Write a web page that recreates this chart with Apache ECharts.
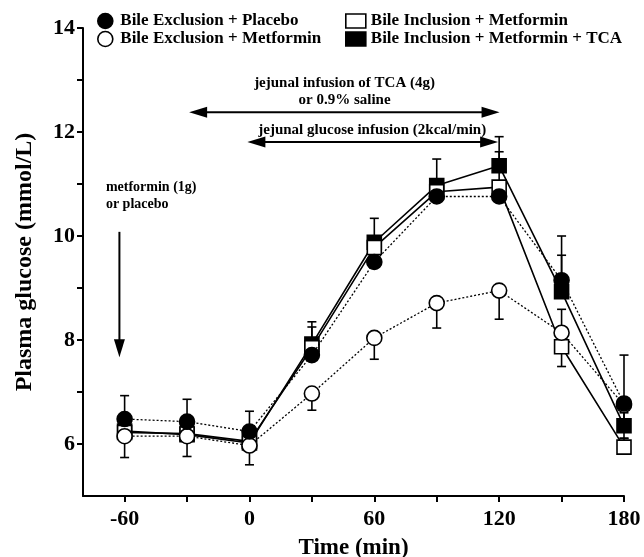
<!DOCTYPE html>
<html><head><meta charset="utf-8">
<script src="https://cdn.jsdelivr.net/npm/echarts@6/dist/echarts.min.js"></script>
<style>html,body{margin:0;padding:0;background:#fff}#c{width:644px;height:557px}</style>
</head><body><div id="c"></div>
<script>
// ---- data ----
const times = [-60, -30, 0, 30, 60, 90, 120, 150, 180];
const seriesNames = ['Bile Exclusion + Placebo', 'Bile Exclusion + Metformin', 'Bile Inclusion + Metformin', 'Bile Inclusion + Metformin + TCA'];
const exclPlacebo   = [6.48, 6.43, 6.24, 7.71, 9.50, 10.76, 10.76, 9.15, 6.78];
const exclPlaceboUp = [0.45, 0.43, 0.39, 0.30, 0.25, 0.30, 0.30, 0.85, 0.93];
const exclPlaceboDn = [0, 0, 0, 0, 0, 0, 0, 0, 0];
const exclMetformin   = [6.15, 6.15, 5.97, 6.97, 8.04, 8.71, 8.95, 8.14, 6.75];
const exclMetforminUp = [0, 0, 0, 0, 0, 0, 0, 0.45, 0];
const exclMetforminDn = [0.41, 0.39, 0.37, 0.32, 0.41, 0.48, 0.55, 0.30, 0.30];
const inclMetformin   = [6.22, 6.20, 6.05, 7.85, 9.78, 10.85, 10.94, 7.87, 5.94];
const inclMetforminUp = [0, 0, 0, 0.40, 0, 0, 0.68, 0, 0.17];
const inclMetforminDn = [0, 0, 0, 0, 0, 0, 0, 0.38, 0];
const inclTCA   = [6.25, 6.18, 6.02, 7.92, 9.88, 10.97, 11.35, 8.93, 6.35];
const inclTCAUp = [0, 0, 0, 0.43, 0.46, 0.51, 0.56, 0.70, 0.25];
const inclTCADn = [0, 0, 0, 0, 0, 0, 0, 0, 0.24];
const xTickValues = [-60, -30, 0, 30, 60, 90, 120, 150, 180];
const xLabelValues = [-60, 0, 60, 120, 180];
const yTickValues = [6, 7, 8, 9, 10, 11, 12, 13, 14];
const yLabelValues = [6, 8, 10, 12, 14];
const annoTCA = ['jejunal infusion of TCA (4g)', 'or 0.9% saline'];
const annoGlucose = 'jejunal glucose infusion (2kcal/min)';
const annoMetformin = ['metformin (1g)', 'or placebo'];

const FONT = 'Liberation Serif';
const chart = echarts.init(document.getElementById('c'), null, {renderer: 'canvas'});

function pts(vals) { return times.map((t, i) => [t, vals[i]]); }
function errData(vals, up, dn) { return times.map((t, i) => [t, vals[i], up[i], dn[i]]); }

function errSeries(vals, up, dn) {
  return {
    type: 'custom', z: 1, silent: true, animation: false,
    data: errData(vals, up, dn),
    renderItem: function (params, api) {
      const x = api.value(0), y = api.value(1), u = api.value(2), d = api.value(3);
      const children = [];
      const c = api.coord([x, y]);
      const cap = 4.5;
      const st = {stroke: '#000', lineWidth: 1.6};
      if (u > 0) {
        const p = api.coord([x, y + u]);
        children.push({type: 'line', shape: {x1: c[0], y1: c[1], x2: p[0], y2: p[1]}, style: st});
        children.push({type: 'line', shape: {x1: p[0] - cap, y1: p[1], x2: p[0] + cap, y2: p[1]}, style: st});
      }
      if (d > 0) {
        const p = api.coord([x, y - d]);
        children.push({type: 'line', shape: {x1: c[0], y1: c[1], x2: p[0], y2: p[1]}, style: st});
        children.push({type: 'line', shape: {x1: p[0] - cap, y1: p[1], x2: p[0] + cap, y2: p[1]}, style: st});
      }
      return {type: 'group', children: children};
    }
  };
}

function lineSeries(name, vals, symbol, size, fill, dotted, z) {
  return {
    name: name, type: 'line', z: z, animation: false, silent: true,
    data: pts(vals), symbol: symbol, symbolSize: size, showSymbol: true,
    lineStyle: {color: '#000', width: dotted ? 1.3 : 1.6, type: dotted ? [2, 2] : 'solid'},
    itemStyle: {color: fill, borderColor: '#000', borderWidth: 1.6},
    emphasis: {disabled: true}
  };
}

const labelStyle = {fontFamily: FONT, fontWeight: 'bold', color: '#000'};
const legendText = {fontFamily: FONT, fontWeight: 'bold', fontSize: 17, color: '#000', lineHeight: 18};

chart.setOption({
  backgroundColor: '#fff',
  animation: false,
  grid: {left: 83, right: 20, top: 28, bottom: 61, containLabel: false, outerBoundsMode: 'none'},
  legend: [
    {left: 97, top: 12, orient: 'vertical', padding: 0, itemGap: 0, itemWidth: 20, itemHeight: 15,
     selectedMode: false, textStyle: legendText,
     data: [
       {name: seriesNames[0], icon: 'circle', itemStyle: {color: '#000', borderColor: '#000', borderWidth: 1.6}},
       {name: seriesNames[1], icon: 'circle', itemStyle: {color: '#fff', borderColor: '#000', borderWidth: 1.6}}
     ]},
    {left: 345, top: 12, orient: 'vertical', padding: 0, itemGap: 0, itemWidth: 20, itemHeight: 14,
     selectedMode: false, textStyle: legendText,
     data: [
       {name: seriesNames[2], icon: 'rect', itemStyle: {color: '#fff', borderColor: '#000', borderWidth: 1.6}},
       {name: seriesNames[3], icon: 'rect', itemStyle: {color: '#000', borderColor: '#000', borderWidth: 1.6}}
     ]}
  ],
  xAxis: {
    type: 'value', min: -80, max: 180,
    axisLine: {show: true, onZero: false, lineStyle: {color: '#000', width: 2}},
    axisTick: {show: true, customValues: xTickValues, length: 6, lineStyle: {color: '#000', width: 2}},
    axisLabel: Object.assign({customValues: xLabelValues, fontSize: 22, margin: 12}, labelStyle),
    splitLine: {show: false},
    name: 'Time (min)', nameLocation: 'middle', nameGap: 41,
    nameTextStyle: Object.assign({fontSize: 23}, labelStyle)
  },
  yAxis: {
    type: 'value', min: 5, max: 14,
    axisLine: {show: true, onZero: false, lineStyle: {color: '#000', width: 2}},
    axisTick: {show: true, customValues: yTickValues, length: 6, lineStyle: {color: '#000', width: 2}},
    axisLabel: Object.assign({customValues: yLabelValues, fontSize: 22, margin: 8}, labelStyle),
    splitLine: {show: false},
    name: 'Plasma glucose (mmol/L)', nameLocation: 'middle', nameGap: 46,
    nameTextStyle: Object.assign({fontSize: 24}, labelStyle)
  },
  series: [
    errSeries(inclTCA, inclTCAUp, inclTCADn),
    errSeries(inclMetformin, inclMetforminUp, inclMetforminDn),
    errSeries(exclMetformin, exclMetforminUp, exclMetforminDn),
    errSeries(exclPlacebo, exclPlaceboUp, exclPlaceboDn),
    lineSeries(seriesNames[3], inclTCA, 'rect', 14, '#000', false, 2),
    lineSeries(seriesNames[2], inclMetformin, 'rect', 14, '#fff', false, 3),
    lineSeries(seriesNames[1], exclMetformin, 'circle', 15, '#fff', true, 4),
    lineSeries(seriesNames[0], exclPlacebo, 'circle', 15, '#000', true, 5)
  ]
});

// ---- annotations (positions in data coordinates) ----
function px(x, y) { return chart.convertToPixel({gridIndex: 0}, [x, y]); }
function arrowHead(tip, dir, len, half) {
  const bx = tip[0] - dir[0] * len, by = tip[1] - dir[1] * len;
  const nx = -dir[1], ny = dir[0];
  return {type: 'polygon', shape: {points: [[tip[0], tip[1]], [bx + nx * half, by + ny * half], [bx - nx * half, by - ny * half]]},
          style: {fill: '#000'}, z: 20};
}
const g = [];
function hArrow(x1, x2, y) {
  const a = px(x1, y), b = px(x2, y);
  g.push({type: 'line', shape: {x1: a[0] + 8, y1: a[1], x2: b[0] - 8, y2: b[1]}, style: {stroke: '#000', lineWidth: 2}, z: 20});
  g.push(arrowHead(a, [-1, 0], 18, 5.5));
  g.push(arrowHead(b, [1, 0], 18, 5.5));
}
function vArrow(x, yTop, yTip) {
  const a = px(x, yTop), b = px(x, yTip);
  g.push({type: 'line', shape: {x1: a[0], y1: a[1], x2: b[0], y2: b[1] - 8}, style: {stroke: '#000', lineWidth: 2}, z: 20});
  g.push(arrowHead(b, [0, 1], 18, 5.5));
}
function txt(str, x, y, size, align) {
  const p = px(x, y);
  g.push({type: 'text', x: p[0], y: p[1], z: 20,
          style: {text: str, fontFamily: FONT, fontWeight: 'bold', fontSize: size, fill: '#000', align: align, verticalAlign: 'middle'}});
}
hArrow(-29, 120.2, 12.38);
hArrow(-1, 119.5, 11.81);
vArrow(-62.5, 10.08, 7.67);
txt(annoTCA[0], 45.7, 12.94, 15, 'center');
txt(annoTCA[1], 45.7, 12.62, 15, 'center');
txt(annoGlucose, 59, 12.04, 15, 'center');
txt(annoMetformin[0], -69, 10.94, 14, 'left');
txt(annoMetformin[1], -69, 10.6, 14, 'left');
chart.setOption({graphic: g});
</script>
</body></html>
